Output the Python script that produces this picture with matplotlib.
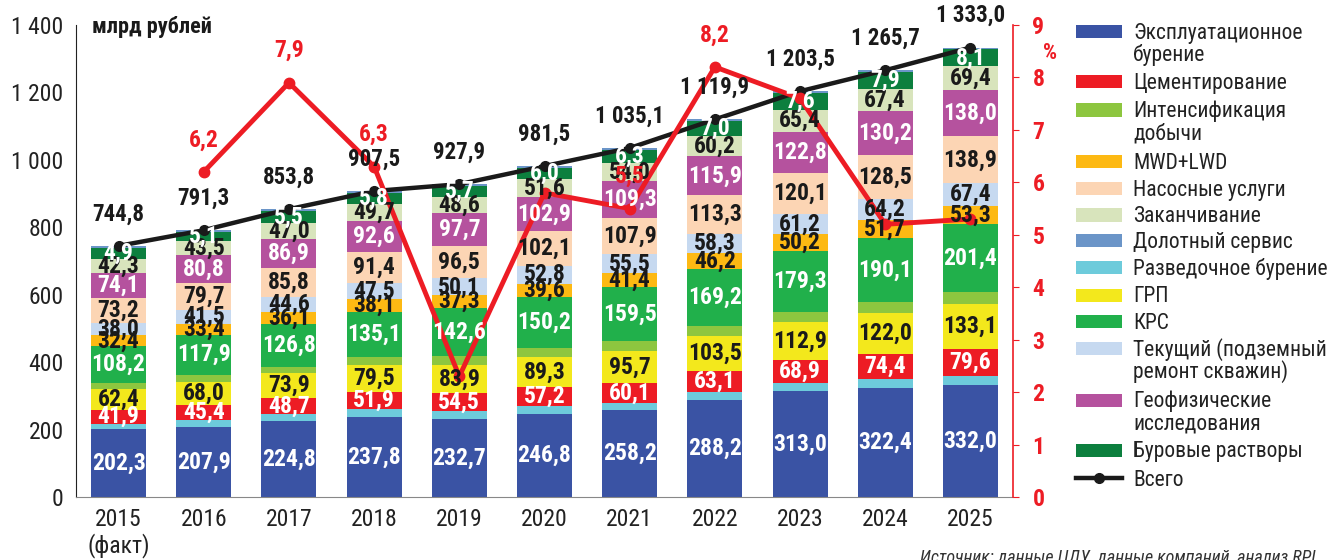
import numpy as np
import matplotlib.pyplot as plt
from matplotlib.patches import Rectangle
from matplotlib.lines import Line2D
from matplotlib.ticker import FuncFormatter

plt.rcParams['font.family'] = ['Roboto Condensed', 'Liberation Sans Narrow',
                               'DejaVu Sans Condensed', 'Liberation Sans', 'DejaVu Sans']

# ---- data (млрд рублей) ----
years = ['2015\n(факт)', '2016', '2017', '2018', '2019', '2020',
         '2021', '2022', '2023', '2024', '2025']
expl = [202.3, 207.9, 224.8, 237.8, 232.7, 246.8, 258.2, 288.2, 313.0, 322.4, 332.0]
razv = [15, 20, 20, 22, 21, 22, 20, 23, 25, 27, 28]
cement = [41.9, 45.4, 48.7, 51.9, 54.5, 57.2, 60.1, 63.1, 68.9, 74.4, 79.6]
grp = [62.4, 68.0, 73.9, 79.5, 83.9, 89.3, 95.7, 103.5, 112.9, 122.0, 133.1]
intens = [17, 22, 18, 23, 26, 28, 29, 30, 30, 33, 36]
krs = [108.2, 117.9, 126.8, 135.1, 142.6, 150.2, 159.5, 169.2, 179.3, 190.1, 201.4]
mwd = [32.4, 33.4, 36.1, 38.1, 37.3, 39.6, 41.4, 46.2, 50.2, 51.7, 53.3]
tekush = [38.0, 41.5, 44.6, 47.5, 50.1, 52.8, 55.5, 58.3, 61.2, 64.2, 67.4]
nasos = [73.2, 79.7, 85.8, 91.4, 96.5, 102.1, 107.9, 113.3, 120.1, 128.5, 138.9]
geof = [74.1, 80.8, 86.9, 92.6, 97.7, 102.9, 109.3, 115.9, 122.8, 130.2, 138.0]
zakanch = [42.3, 43.5, 47.0, 49.7, 48.6, 51.6, 54.0, 60.2, 65.4, 67.4, 69.4]
burrast = [4.9, 5.1, 5.5, 5.8, 5.7, 6.0, 6.3, 7.0, 7.6, 7.9, 8.1]
dolot = [5, 5, 5, 5, 5, 5, 5, 5, 5, 5, 5]
total = [744.8, 791.3, 853.8, 907.5, 927.9, 981.5, 1035.1, 1119.9, 1203.5, 1265.7, 1333.0]
growth = [np.nan, 6.2, 7.9, 6.3, 2.3, 5.8, 5.5, 8.2, 7.6, 5.2, 5.3]
growth_shown = [False, True, True, True, False, False, True, True, False, False, False]

RED = '#ed1c24'
c_expl, c_razv, c_cem, c_grp = '#3a53a4', '#6dcbdb', '#ed1c24', '#f3e81c'
c_int, c_krs, c_mwd, c_tek = '#8dc63f', '#21b04b', '#fdb913', '#c6d9f0'
c_nas, c_geo, c_zak, c_bur, c_dol = '#fcd5b4', '#b5529e', '#d8e4bc', '#0c7f3e', '#6b95c8'

def fmt(v):
    return f'{v:,.1f}'.replace(',', ' ').replace('.', ',')

fig = plt.figure(figsize=(13.39, 5.6), dpi=100)
ax = fig.add_axes([76/1339, 1-497/560, (1013-76)/1339, (497-25)/560])
ax2 = ax.twinx()

x = np.arange(len(years))
w = 0.645

# top (drilling fluids) block fills the bar up to the total
others = np.sum([expl, razv, cement, grp, intens, krs, mwd, tekush, nasos, geof, zakanch, dolot], axis=0)
bur_h = np.array(total) - others

stack = [(expl, expl, c_expl, 'white'),
         (razv, None, c_razv, None),
         (cement, cement, c_cem, 'white'),
         (grp, grp, c_grp, '#1a1a1a'),
         (intens, None, c_int, None),
         (krs, krs, c_krs, 'white'),
         (mwd, mwd, c_mwd, '#1a1a1a'),
         (tekush, tekush, c_tek, '#1a1a1a'),
         (nasos, nasos, c_nas, '#1a1a1a'),
         (geof, geof, c_geo, 'white'),
         (zakanch, zakanch, c_zak, '#1a1a1a'),
         (bur_h, burrast, c_bur, 'white'),
         (dolot, None, c_dol, None)]

bottom = np.zeros(len(years))
for h, labs, col, tcol in stack:
    h = np.array(h, dtype=float)
    ax.bar(x, h, w, bottom=bottom, color=col, linewidth=0, zorder=2)
    if labs is not None:
        for i in range(len(x)):
            ax2.text(x[i], bottom[i] + h[i]/2, fmt(labs[i]), transform=ax.transData,
                     ha='center', va='center', color=tcol, fontsize=17,
                     fontweight='bold', zorder=10)
    bottom += h

# total line
ax.plot(x, total, color='#1a1a1a', lw=3.2, marker='o', ms=7, zorder=5)
for i in range(len(x)):
    ax2.annotate(fmt(total[i]), (x[i], total[i]), xycoords=ax.transData,
                 xytext=(0, 23), textcoords='offset points', ha='center', va='center',
                 fontsize=16.5, fontweight='bold', color='#1a1a1a', zorder=11)

# growth line (%)
ax2.plot(x, growth, color=RED, lw=3.5, marker='o', ms=7.5, zorder=6)
for i in range(len(x)):
    if growth_shown[i]:
        ax2.annotate(fmt(growth[i]), (x[i], growth[i]), xytext=(0, 23),
                     textcoords='offset points', ha='center', va='center',
                     fontsize=17, fontweight='bold', color=RED, zorder=12)

# axes
ax.set_xlim(-0.5, 10.5)
ax.set_ylim(0, 1400)
ax.set_yticks(range(0, 1401, 200))
ax.yaxis.set_major_formatter(FuncFormatter(lambda v, p: f'{int(v):,}'.replace(',', ' ')))
ax.tick_params(axis='y', length=0, pad=9, labelsize=17, labelcolor='#222')
ax.set_xticks(x)
ax.set_xticklabels(years, fontsize=17, color='#222', linespacing=1.12)
ax.tick_params(axis='x', length=0, pad=8)
for s in ['top', 'right']:
    ax.spines[s].set_visible(False)
ax.spines['left'].set_color('#222')
ax.spines['bottom'].set_color('#888')

ax2.set_ylim(0, 9)
ax2.set_yticks(range(0, 10))
ax2.tick_params(axis='y', colors=RED, length=4, pad=10, labelsize=17)
for t in ax2.get_yticklabels():
    t.set_fontweight('bold')
for s in ['top', 'left', 'bottom']:
    ax2.spines[s].set_visible(False)
ax2.spines['right'].set_color(RED)
ax2.spines['right'].set_linewidth(1.2)

fig.text(1050/1339, 1-53/560, '%', color=RED, fontsize=16, fontweight='bold',
         ha='center', va='center')
fig.text(92/1339, 1-33/560, 'млрд рублей', fontsize=16, fontweight='bold',
         color='#1a1a1a', ha='left', va='baseline')

# legend drawn by hand
leg_items = [('Эксплуатационное\nбурение', c_expl), ('Цементирование', c_cem),
             ('Интенсификация\nдобычи', c_int), ('MWD+LWD', c_mwd),
             ('Насосные услуги', c_nas), ('Заканчивание', c_zak),
             ('Долотный сервис', c_dol), ('Разведочное бурение', c_razv),
             ('ГРП', c_grp), ('КРС', c_krs),
             ('Текущий (подземный\nремонт скважин)', c_tek),
             ('Геофизические\nисследования', c_geo), ('Буровые растворы', c_bur)]
leg_y = [31.7, 81.7, 110, 161.7, 188.3, 215, 240.7, 267.7, 295, 321.7, 348.3, 400, 450]
for (lab, col), yy in zip(leg_items, leg_y):
    fig.add_artist(Rectangle((1076/1339, 1-(yy+6.5)/560), 46/1339, 13/560,
                             transform=fig.transFigure, color=col, lw=0))
    for k, line in enumerate(lab.split('\n')):
        fig.text(1133/1339, 1-(yy + 7.5 + 21.6*k)/560, line, fontsize=15.5,
                 color='#222', ha='left', va='baseline')
fig.add_artist(Line2D([1076/1339, 1122/1339], [1-478.3/560]*2, transform=fig.transFigure,
                      color='#1a1a1a', lw=3.2, marker=None))
fig.add_artist(Line2D([1099/1339], [1-478.3/560], transform=fig.transFigure,
                      color='#1a1a1a', marker='o', ms=7))
fig.text(1133/1339, 1-(478.3+7.5)/560, 'Всего', fontsize=15.5, color='#222',
         ha='left', va='baseline')

fig.text(920/1339, 1-549/560, 'Источник: данные ЦДУ, данные компаний, анализ RPI',
         fontsize=13, style='italic', color='#333', ha='left', va='top')

fig.savefig('out.png', dpi=100)
